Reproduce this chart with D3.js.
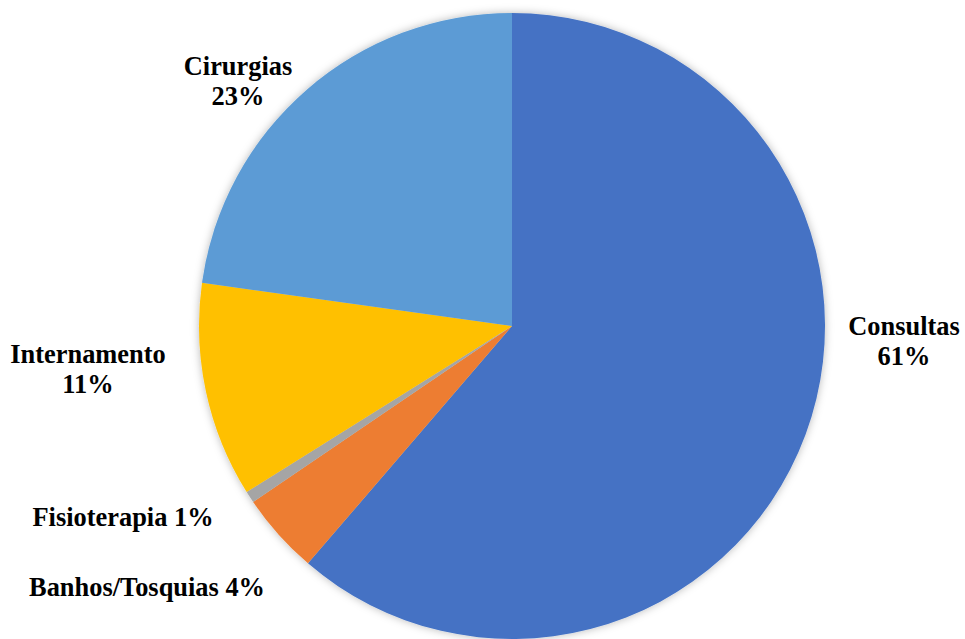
<!DOCTYPE html>
<html>
<head>
<meta charset="utf-8">
<script src="https://cdn.jsdelivr.net/npm/d3@7"></script>
<style>
  html, body { margin: 0; padding: 0; background: #ffffff; }
  svg { display: block; }
</style>
</head>
<body>
<svg id="chart" width="965" height="639"></svg>
<script>
// Share of services (percent)
const categories = ["Consultas", "Banhos/Tosquias", "Fisioterapia", "Internamento", "Cirurgias"];
const values = [61.3, 4.2, 0.6, 11.1, 22.8];
const percentLabels = ["61%", "4%", "1%", "11%", "23%"];
const colors = ["#4472C4", "#ED7D31", "#A5A5A5", "#FFC000", "#5B9BD5"];

// Label placement: anchor point and whether name/percent share one line
const labelLayout = [
  { x: 904, y: 335, inline: false },
  { x: 147, y: 596, inline: true },
  { x: 123, y: 526, inline: true },
  { x: 88,  y: 363, inline: false },
  { x: 238, y: 75,  inline: false }
];

const width = 965, height = 639;
const cx = 512, cy = 326, radius = 313;

const svg = d3.select("#chart");

const defs = svg.append("defs");
const shadow = defs.append("filter").attr("id", "soft-shadow")
  .attr("x", "-10%").attr("y", "-10%").attr("width", "120%").attr("height", "120%");
shadow.append("feDropShadow")
  .attr("dx", 0).attr("dy", 0).attr("stdDeviation", 4)
  .attr("flood-color", "#000").attr("flood-opacity", 0.28);

const data = categories.map((c, i) => ({ name: c, value: values[i], pct: percentLabels[i], color: colors[i] }));

const pie = d3.pie().sort(null).value(d => d.value).startAngle(0).endAngle(2 * Math.PI);
const arc = d3.arc().innerRadius(0).outerRadius(radius);

const g = svg.append("g").attr("transform", `translate(${cx},${cy})`);

g.append("g").attr("filter", "url(#soft-shadow)")
  .selectAll("path")
  .data(pie(data))
  .join("path")
  .attr("d", arc)
  .attr("fill", d => d.data.color);

const labels = svg.append("g").selectAll("text")
  .data(data)
  .join("text")
  .style("font-family", "'Liberation Serif', 'Times New Roman', serif")
  .style("font-weight", "bold")
  .style("font-size", "26.4px")
  .attr("fill", "#000")
  .attr("text-anchor", "middle")
  .attr("x", (d, i) => labelLayout[i].x)
  .attr("y", (d, i) => labelLayout[i].y);

labels.each(function (d, i) {
  const t = d3.select(this);
  if (labelLayout[i].inline) {
    t.text(`${d.name} ${d.pct}`);
  } else {
    t.append("tspan").attr("x", labelLayout[i].x).text(d.name);
    t.append("tspan").attr("x", labelLayout[i].x).attr("dy", 30).text(d.pct);
  }
});
</script>
</body>
</html>
